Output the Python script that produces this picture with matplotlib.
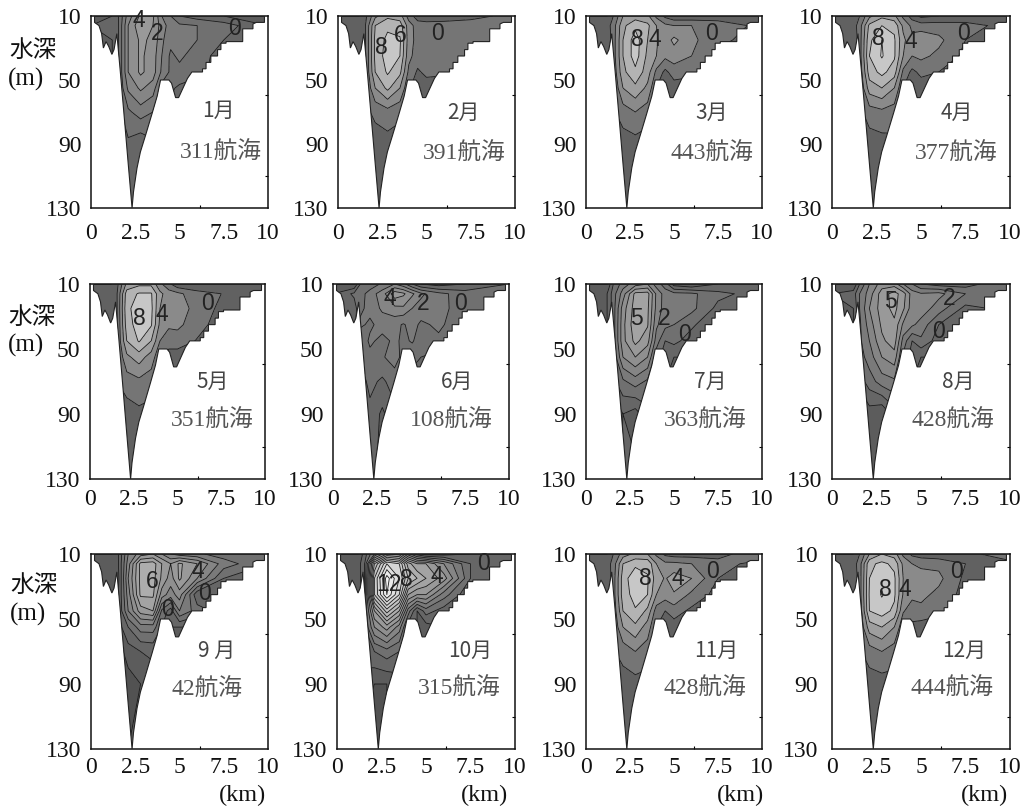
#Monthly depth sections, contour panels
import numpy as np
import matplotlib
matplotlib.use('Agg')
import matplotlib.pyplot as plt
from matplotlib.patches import Polygon

W, H = 1026, 807
CJK = ['Liberation Serif', 'Noto Sans CJK JP']

# grid the values are read on
grid_x = [0, 1.2, 1.55, 2.1, 2.8, 3.5, 4.0, 4.5, 5, 6, 7.5, 10]
grid_z = [10, 16, 25, 35, 45, 55, 70, 90, 130]

# bottom outline of the section
bottom_x = [0.2, 0.2, 0.45, 0.6, 0.7, 0.85, 1.0, 1.18, 1.3, 1.46, 1.65, 1.9, 2.1, 2.32, 2.4, 2.6, 2.79, 3.07, 3.45,
            3.74, 3.93, 4.4, 4.55, 4.78, 4.95, 5.2, 5.45, 5.7, 6.3, 6.3, 6.5, 6.5, 6.77, 6.77, 7.15, 7.15, 7.34, 7.34,
            7.63, 7.63, 8.57, 8.57, 9.15, 9.15, 9.34, 9.8, 9.8]
bottom_z = [10, 14, 16, 21, 30, 26, 29, 34, 31, 21, 44, 76, 102, 130, 120, 105, 95, 85, 71,
            60, 50, 50, 52, 61, 61, 55, 49, 45, 45, 43, 43, 39, 39, 35, 35, 31, 31, 27,
            27, 26, 26, 18, 18, 15, 14, 14, 10]

jan = [[-1, -1, 0, 2.5, 4.2, 4.2, 2, 1, 0, -0.5, -1, -1],
       [-1, -0.5, 0, 3, 4.8, 4, 2.5, 1.5, 1.2, 1, 0.5, -1],
       [-1, -1, 0, 3, 4.2, 3.8, 2.2, 1.3, 1.5, 1, 0, -1],
       [-1, -1, 0, 3, 4.2, 3.5, 2, 0.8, 1.2, 0.5, -0.5, -1],
       [-1, -1, 0, 3, 4.2, 3.5, 1.8, 0.8, 0.7, 0.3, -0.5, -1],
       [-1, -1, 0, 2.2, 3.2, 2.5, 0.6, 0.2, -0.2, -0.5, -1, -1],
       [-1, -1, -0.3, 0.8, 1.5, 1, 0, -0.5, -1, -1, -1, -1],
       [-1, -1, -0.5, -0.2, -0.8, -0.2, -0.5, -1, -1, -1, -1, -1],
       [-1, -1, -0.5, -0.4, -0.5, -0.5, -1, -1, -1, -1, -1, -1]]
feb = [[-2, -2, -0.5, 3.5, 5.5, 5, 1, -1, -1.5, -1, -0.5, 0.5],
       [-1, -1, 0, 6, 7.5, 7, 3, 1, 1, 0.8, 0.8, 0],
       [-1.5, -1.5, 0, 6.5, 8.6, 8.3, 3, 1.2, 1, 1, 0.5, -0.5],
       [-1.5, -1.5, 0, 6.5, 9, 8, 2.6, 1, 1, 0.8, 0, -0.5],
       [-1.5, -1.5, 0, 6, 8.3, 6.5, 1.5, -0.3, 0.5, 0.3, -0.5, -0.5],
       [-1.5, -1.5, -0.2, 4, 6.5, 4, 0.2, -0.8, -1, -1, -1, -1],
       [-1.5, -1.5, -0.5, 0.5, 1.2, 0.5, -0.5, -1, -1, -1, -1, -1],
       [-1.5, -1.5, -1, -1, -0.8, -1, -1, -1, -1, -1, -1, -1],
       [-1.5, -1.5, -1.5, -1.5, -1.5, -1.5, -1.5, -1.5, -1.5, -1.5, -1.5, -1.5]]
mar = [[-2, -2, 0, 4, 5, 4.5, 1.5, -0.5, -1.5, -1.5, -1, 0],
       [-1, -1, 1, 5.5, 7.5, 6.5, 4, 2.5, 2, 2, 1, -0.5],
       [-1.5, -1.5, 1, 6, 9, 6, 4.2, 3, 4.5, 2.5, 0.5, -1],
       [-1.5, -1.5, 1, 6, 9, 5.5, 4, 2.5, 3, 2, -0.5, -1],
       [-1.5, -1.5, 0.5, 5.5, 7.5, 5, 1.5, -0.5, 1, 0.5, -1, -1],
       [-1.5, -1.5, 0, 4, 5.5, 3.5, 0, -1, -1, -1, -1, -1],
       [-1.5, -1.5, -0.3, 1, 2, 1, -0.5, -1, -1, -1, -1, -1],
       [-1.5, -1.5, -1, -1, -0.8, -1, -1, -1, -1, -1, -1, -1],
       [-1.5, -1.5, -1.5, -1.5, -1.5, -1.5, -1.5, -1.5, -1.5, -1.5, -1.5, -1.5]]
apr = [[-2, -2, 0, 3.5, 5.5, 4.5, 1.5, -1, -2.5, -2, -1, 0],
       [-1, -1, 1, 6.5, 8, 7.5, 3.5, 1.5, 1, 1, 0.5, -0.5],
       [-1.5, -1.5, 1, 7.5, 10, 8.3, 4.5, 2.5, 3.5, 2.5, 0, -1],
       [-1.5, -1.5, 1, 8, 10.2, 8.3, 4, 2, 2.5, 1.5, -0.5, -1],
       [-1.5, -1.5, 0.5, 7, 8.6, 7, 1.5, -0.5, 0.5, 0, -1, -1],
       [-1.5, -1.5, 0, 5, 6, 4, 0, -1, -1, -1, -1, -1],
       [-1.5, -1.5, -0.5, 1, 1.5, 1, -0.5, -1, -1, -1, -1, -1],
       [-1.5, -1.5, -1, -1, -0.8, -0.5, -1, -1, -1, -1, -1, -1],
       [-1.5, -1.5, -1.5, -1.5, -1.5, -1.5, -1.5, -1.5, -1.5, -1.5, -1.5, -1.5]]
may = [[-2, -2, -0.5, 4.5, 5.5, 5.5, 2.5, 0.5, -1.5, -2, -1, 0],
       [-1, -1, 0, 7, 8.2, 8.2, 4.5, 3, 2.5, 1, 0, -0.5],
       [-1.5, -1.5, 0, 7.5, 9, 8.5, 4, 3, 3, 1.5, -0.5, -1],
       [-1.5, -1.5, 0, 7, 9, 8.2, 3.5, 2.5, 2.5, 1, -1, -1],
       [-1.5, -1.5, 0, 6, 8.2, 6, 2, 0.5, 1, 0, -1, -1],
       [-1.5, -1.5, 0, 3.5, 5, 3, 0.5, -0.5, -1, -1, -1, -1],
       [-1.5, -1.5, 0, 1, 1.5, 1, 0, -1, -1, -1, -1, -1],
       [-1.5, -1.5, -0.5, -1, -0.5, -0.8, -1, -1, -1, -1, -1, -1],
       [-1.5, -1.5, -0.5, -0.5, -0.5, -0.5, -1, -1, -1, -1, -1, -1]]
jun = [[-2, -2, 0, 0.3, 1.2, 2, 1.3, 0, -1, -1.5, -1, 0],
       [-1, 0.2, 0.5, 1.5, 2.5, 4.6, 4.2, 3.2, 2.2, 1.3, 0.5, 0.2],
       [-1, -0.5, 0.8, 1.3, 2.2, 2.7, 2.8, 2, 1.6, 1.2, 0.7, -0.5],
       [-1, -0.5, 1.2, 0.8, 1.4, 1.3, 0.9, 1.4, 0.8, 1.2, 0.3, -0.5],
       [-1, -0.5, 0.2, 1.2, 0.7, 1.2, 0.8, 1.1, 0.5, 0.8, -0.3, -0.5],
       [-1, -0.5, 0.1, 0.7, 0.9, 1.4, 0.7, 0.4, 0, -0.5, -1, -1],
       [-1, -1, -0.5, 0.3, -0.2, 0.5, 0, -0.5, -1, -1, -1, -1],
       [-1, -1, -1.5, -0.3, -1.2, -0.3, -1, -1, -1, -1, -1, -1],
       [-1, -1, -1.5, -0.7, -1.3, -1.2, -1, -1, -1, -1, -1, -1]]
jul = [[-2, -2, 0, 1.5, 2.5, 3, 1.5, 0.5, -1.5, -2, -1, 0],
       [-1, -1, 0.5, 2.5, 5.3, 5.4, 2.8, 1.5, 1.3, 1.2, 0.3, -0.5],
       [-1, -1, 0.5, 3.5, 5.5, 5.2, 2.7, 1.5, 1.4, 1.3, -0.3, -1],
       [-1, -1, 0.5, 3.7, 5.7, 5.1, 2.2, 1.3, 1, 0.2, -1, -1],
       [-1, -1, 0.5, 3.7, 5.3, 4.4, 1.5, 0, 0.3, -0.5, -1, -1],
       [-1, -1, 0.2, 3, 4, 3, 0.4, -0.5, -1, -1, -1, -1],
       [-1, -1, -0.3, 0.8, 1.5, 0.8, 0, -1, -1, -1, -1, -1],
       [-1, -1, -2, -1, -1.5, -0.3, -1, -1, -1, -1, -1, -1],
       [-1, -1, -2, -0.7, -0.7, -1, -1, -1, -1, -1, -1, -1]]
aug = [[-2, -2, 0, 2, 3.5, 3.5, 2, 1, 0, -0.5, -0.5, 1],
       [-1, -0.5, 1, 2.5, 4.5, 5.4, 4.5, 2.5, 2.1, 2.3, 1, 0],
       [-1, -1, 1, 3, 4.5, 5.3, 4.2, 2.4, 2.6, 1.5, -0.3, 0.3],
       [-1, -1, 0.8, 2.5, 4.2, 4.8, 2.8, 2.2, 1.6, 0, -1, -1],
       [-1, -1, 0.8, 2, 3.8, 4.5, 1.6, 0, 0.8, -0.5, -1, -1],
       [-1, -1, 0.5, 1.5, 3, 3.6, 0.8, -0.5, -1, -1, -1, -1],
       [-1, -1, -0.5, 0.5, 1.5, 1.8, 0.2, -1, -1, -1, -1, -1],
       [-1, -1, -2.5, -1.5, -2, -0.5, -1, -1, -1, -1, -1, -1],
       [-1, -1, -2.5, -2, -1, -1, -1, -1, -1, -1, -1, -1]]
sep = [[-2, -2, -1, 2, 3.5, 4, 3, 2, 1.5, 1.2, 0.5, 1],
       [-1.5, -1.5, -1, 2.5, 6.3, 6.5, 5, 4, 5.2, 4, 1.5, 0],
       [-1.5, -1.5, -1.2, 3, 6.3, 6.4, 4.8, 3.5, 5.2, 3, 0, -0.5],
       [-1.5, -1.5, -1, 2.5, 6.2, 6.2, 3.5, 2.5, 3.5, -0.8, -0.5, -0.5],
       [-1.5, -1.5, -1, 2, 4.5, 5, 0.8, -0.5, 2, 0.5, -0.5, -0.5],
       [-1.5, -1.5, -1.5, 0, 1.5, 1.5, 0, -1, -1, -1, -1, -1],
       [-1.5, -1.5, -2.5, -1.5, -1, -0.8, -1, -1, -1, -1, -1, -1],
       [-1.5, -1.5, -3, -2.5, -2, -1.5, -1, -1, -1, -1, -1, -1],
       [-1.5, -1.5, -3, -2, -1, -1, -1, -1, -1, -1, -1, -1]]
oct_ = [[-2, -2, -0.5, 2, 5, 4.5, 1.5, -0.5, -1.5, -1.5, -1, 0],
        [-1.5, -1.5, 0, 7, 11, 10, 6.5, 5, 5, 3, 0, -0.5],
        [-1.5, -1.5, 0, 9, 13.5, 11, 8, 7, 6, 4.5, 0, -1],
        [-1.5, -1.5, 0, 9, 13, 10, 5, 4, 4, 1.5, -1, -1],
        [-1.5, -1.5, 0, 5, 8.5, 6, 1.5, -1, 0.5, -0.5, -1, -1],
        [-1.5, -1.5, 0, 3, 4.5, 2.5, -0.5, -1, -1.5, -1, -1, -1],
        [-1.5, -1.5, -0.5, 0, 0.6, 0, -0.8, -1, -1, -1, -1, -1],
        [-1.5, -1.5, -1.5, -2, -2, -1.5, -1.5, -1, -1, -1, -1, -1],
        [-1.5, -1.5, -2.5, -2.2, -2, -1.5, -1, -1, -1, -1, -1, -1]]
nov = [[-2, -2, 0, 3, 4.5, 4, 1.5, -0.5, -1, -1, -0.5, 1],
       [-1, -1, 0.8, 6, 7.5, 7.5, 4, 2.5, 2.5, 2, 0.5, -0.5],
       [-1.5, -1.5, 1, 7, 9.5, 8.2, 5, 3.8, 5, 4, 0, -1],
       [-1.5, -1.5, 1, 7, 8.8, 8, 4, 3, 3.8, 1.5, -0.8, -1],
       [-1.5, -1.5, 0.5, 6, 7.8, 5.5, 1, 0, 1, -0.5, -1, -1],
       [-1.5, -1.5, 0.2, 4, 5.5, 3, 0, -1, -1, -1, -1, -1],
       [-1.5, -1.5, -0.2, 0.8, 2, 1, -0.5, -1, -1, -1, -1, -1],
       [-1.5, -1.5, -1, -1, -0.8, -0.8, -1, -1, -1, -1, -1, -1],
       [-1.5, -1.5, -1.5, -1.5, -1.5, -1.5, -1.5, -1.5, -1.5, -1.5, -1.5, -1.5]]
dec = [[-2, -2, 0, 4, 6, 5, 1.5, -0.5, -1, -1.5, -0.5, 1],
       [-1, -1, 1, 7.5, 8.5, 7.5, 3.5, 2, 1.5, 1.5, 0, -0.5],
       [-1.5, -1.5, 1, 8, 9.5, 8.4, 4, 3, 3, 2.5, -0.5, -1],
       [-1.5, -1.5, 1, 8.2, 10.2, 8.4, 3.8, 2.5, 2.5, 1.5, -0.8, -1],
       [-1.5, -1.5, 0.5, 8, 9, 7.5, 2.2, 1, 1.5, 0.5, -1, -1],
       [-1.5, -1.5, 0.2, 5, 6, 4, 0.5, -0.5, -1, -1, -1, -1],
       [-1.5, -1.5, -0.2, 1, 2, 1, -0.5, -1, -1, -1, -1, -1],
       [-1.5, -1.5, -1, -1, -1, -0.8, -1, -1, -1, -1, -1, -1],
       [-1.5, -1.5, -1.5, -1.5, -1.5, -1.5, -1.5, -1.5, -1.5, -1.5, -1.5, -1.5]]

month_values = [jan, feb, mar, apr, may, jun, jul, aug, sep, oct_, nov, dec]
month_names = ['1月', '2月', '3月', '4月', '5月', '6月', '7月', '8月', '9 月', '10月', '11月', '12月']
voyages = ['311航海', '391航海', '443航海', '377航海', '351航海', '108航海',
           '363航海', '428航海', '42航海', '315航海', '428航海', '444航海']
level_step = [1, 2, 2, 2, 2, 1, 1, 1, 1, 1, 2, 2]

# contour labels: text, km, depth
contour_labels = [
    [('4', 2.68, 13), ('2', 3.75, 21), ('0', 8.1, 18)],
    [('8', 2.43, 30), ('6', 3.5, 22), ('0', 5.6, 21)],
    [('8', 2.94, 25), ('4', 3.93, 25), ('0', 7.15, 21)],
    [('8', 2.6, 24), ('4', 4.4, 26), ('0', 7.36, 21)],
    [('8', 2.8, 31), ('4', 4.1, 29), ('0', 6.7, 22)],
    [('4', 3.2, 19), ('2', 5.1, 22), ('0', 7.25, 22)],
    [('5', 2.85, 31), ('2', 4.46, 31), ('0', 5.6, 41)],
    [('5', 3.27, 21), ('2', 6.6, 19), ('0', 6.0, 39)],
    [('6', 3.47, 27), ('4', 6.06, 21), ('0', 6.4, 34), ('0', 4.3, 44)],
    [('12', 2.9, 29), ('8', 3.9, 26), ('4', 5.6, 24), ('0', 8.25, 16)],
    [('8', 3.36, 25), ('4', 5.2, 25), ('0', 7.2, 21)],
    [('8', 3.0, 32), ('4', 4.1, 32), ('0', 7.0, 21)],
]

# pixel layout: left, right, top, bottom of each axes
axes_px = [(91, 268, 16, 208), (338, 515, 16, 208), (586, 762, 16, 208), (832, 1010, 16, 208),
           (90, 265, 284, 479), (333, 509, 284, 479), (586, 762, 284, 479), (832, 1010, 284, 479),
           (91, 268, 554, 749), (337, 515, 554, 749), (586, 762, 554, 749), (832, 1010, 554, 749)]
month_px = [(218, 111), (463, 113), (712, 113), (957, 113), (213, 382), (457, 382),
            (710, 382), (958, 382), (217, 651), (470, 651), (716, 651), (964, 651)]
voyage_px = [(221, 153), (464, 154), (712, 154), (956, 154), (212, 421), (451, 421),
             (705, 421), (953, 421), (207, 690), (459, 689), (705, 689), (952, 689)]
xpad = [11, 11, 11, 11, 7.5, 7.5, 7.5, 7.5, 6, 6, 6, 6]
ypad = [7, 7, 7, 7, 7, 7, 7, 7, 7, 7, 7, 10]


def fig_xy(px, py):
    return px / W, 1 - py / H


def gray(v):
    g = np.clip(0.42 + 0.04 * v, 0, 0.95)
    return (g, g, g)


fig = plt.figure(figsize=(W / 100, H / 100), dpi=100)

for i in range(12):
    l, r, t, b = axes_px[i]
    ax = fig.add_axes([l / W, 1 - b / H, (r - l) / W, (b - t) / H])
    vals = np.array(month_values[i])
    step = level_step[i]
    levels = np.arange(-4, 15, step)
    fills = [gray((levels[k] + levels[k + 1]) / 2) for k in range(len(levels) - 1)]

    bed = Polygon(np.column_stack([bottom_x, bottom_z]), closed=True, transform=ax.transData,
                  facecolor='none', edgecolor='#222222', linewidth=0.8, zorder=3)
    ax.add_patch(bed)
    cf = ax.contourf(grid_x, grid_z, vals, levels=levels, colors=fills)
    cl = ax.contour(grid_x, grid_z, vals, levels=levels, colors='#1a1a1a', linewidths=0.6, linestyles='solid')
    cf.set_clip_path(bed)
    cl.set_clip_path(bed)

    for txt, lx, lz in contour_labels[i]:
        ax.text(lx, lz, txt, fontsize=16.5, family='Liberation Sans', color='#222222',
                ha='center', va='center', zorder=5)

    ax.set_xlim(0, 10)
    ax.set_ylim(130, 10)
    ax.set_xticks([0, 2.5, 5, 7.5, 10])
    ax.set_xticklabels(['0', '2.5', '5', '7.5', '10'])
    ax.set_yticks([10, 50, 90, 130])
    ax.tick_params(length=0, labelsize=17, labelcolor='#111111')
    ax.tick_params(axis='x', pad=xpad[i])
    ax.tick_params(axis='y', pad=ypad[i])
    for lab in ax.get_xticklabels() + ax.get_yticklabels():
        lab.set_family('Liberation Serif')
    # small inner marks that sit on the frame
    ax.set_xticks([6.15], minor=True)
    ax.set_yticks([59.5, 110], minor=True)
    ax.tick_params(which='minor', direction='in', length=2, width=0.8, left=False, right=True)
    for s in ax.spines.values():
        s.set_linewidth(1.1)
        s.set_color('#111111')

    mx, my = fig_xy(*month_px[i])
    fig.text(mx, my, month_names[i], fontsize=15, family='Noto Sans CJK JP', color='#444444',
             ha='center', va='center')
    vx, vy = fig_xy(*voyage_px[i])
    fig.text(vx, vy, voyages[i], fontsize=17, family=CJK, color='#555555', ha='center', va='center')

# row labels
for (px, py), (mpx, mpy) in zip([(33, 50), (32, 317), (34, 585)], [(26, 79), (26, 345), (28, 614)]):
    fig.text(*fig_xy(px, py), '水深', fontsize=17, family='Noto Sans CJK JP', color='#111111', ha='center', va='center')
    fig.text(*fig_xy(mpx, mpy), '(m)', fontsize=18, family='Liberation Serif', color='#111111', ha='center', va='center')
for px in [243, 485, 740, 985]:
    fig.text(*fig_xy(px, 795), '(km)', fontsize=17.5, family='Liberation Serif', color='#111111', ha='center', va='center')

fig.savefig('out.png', dpi=100)
